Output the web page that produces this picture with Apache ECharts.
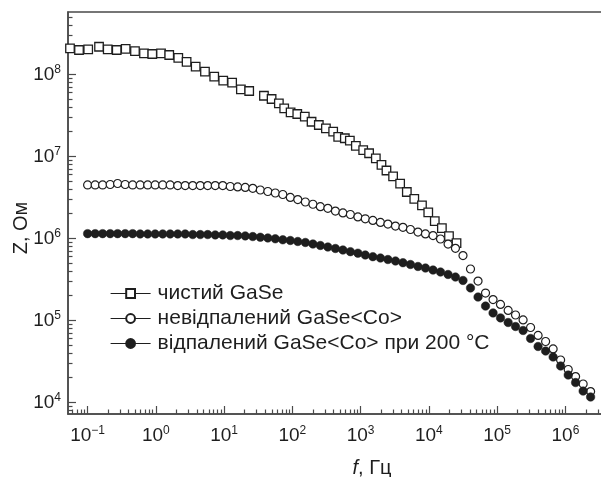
<!DOCTYPE html>
<html>
<head>
<meta charset="utf-8">
<script src="https://cdn.jsdelivr.net/npm/echarts@6/dist/echarts.min.js"></script>
<style>
* { margin: 0; padding: 0; }
#chart-container { width: 601px; height: 477px; background: #fff; }
</style>
</head>
<body>
<div id="chart-container"></div>
<script>
// pure GaSe (squares)
const freqPure = [0.0552, 0.0748, 0.102, 0.147, 0.197, 0.267, 0.361, 0.494, 0.670, 0.886,
  1.19, 1.57, 2.13, 2.82, 3.83, 5.24, 7.16, 9.70, 13.1, 17.6, 23.3, 38.3, 49.6, 63.4, 75.9,
  94.2, 118, 152, 191, 244, 310, 396, 469, 587, 695, 851, 1090, 1330, 1670, 2020, 2390,
  2990, 3790, 4750, 6110, 7920, 9790, 12200, 15500, 19700, 25400]
const zPure = [2.07e8, 1.98e8, 2.02e8, 2.17e8, 2.02e8, 1.98e8, 2.04e8, 1.92e8, 1.80e8, 1.77e8,
  1.80e8, 1.72e8, 1.59e8, 1.42e8, 1.24e8, 1.08e8, 9.35e7, 8.36e7, 7.90e7, 6.56e7, 6.26e7, 5.48e7, 5.00e7, 4.43e7, 3.85e7,
  3.44e7, 3.28e7, 3.04e7, 2.64e7, 2.41e7, 2.19e7, 2.00e7, 1.73e7, 1.66e7, 1.55e7, 1.34e7, 1.19e7, 1.09e7, 9.46e6, 7.84e6, 6.71e6,
  5.70e6, 4.63e6, 3.67e6, 3.02e6, 2.52e6, 2.07e6, 1.62e6, 1.33e6, 1.06e6, 8.71e5]

// GaSe<Co> (open circles = not annealed, filled = annealed at 200 C)
const freqCo = [0.1, 0.129, 0.166, 0.214, 0.275, 0.355, 0.457, 0.589, 0.759, 0.977,
  1.26, 1.62, 2.09, 2.69, 3.47, 4.47, 5.75, 7.41, 9.55, 12.3,
  15.8, 20.4, 26.3, 33.9, 43.7, 56.2, 72.4, 93.3, 120, 155,
  200, 257, 331, 427, 550, 708, 912, 1170, 1510, 1950,
  2510, 3240, 4170, 5370, 6920, 8910, 11500, 14800, 19100, 24500,
  31600, 40700, 52500, 67600, 87100, 112000, 145000, 186000, 240000, 309000,
  398000, 513000, 661000, 851000, 1100000, 1410000, 1820000, 2340000]
const zUnannealed = [4.47e6, 4.47e6, 4.47e6, 4.53e6, 4.66e6, 4.53e6, 4.47e6, 4.47e6, 4.47e6, 4.47e6,
  4.47e6, 4.47e6, 4.40e6, 4.40e6, 4.40e6, 4.40e6, 4.40e6, 4.40e6, 4.40e6, 4.28e6,
  4.23e6, 4.17e6, 4.07e6, 3.88e6, 3.72e6, 3.57e6, 3.42e6, 3.15e6, 2.97e6, 2.77e6,
  2.60e6, 2.43e6, 2.32e6, 2.15e6, 2.04e6, 1.95e6, 1.82e6, 1.73e6, 1.65e6, 1.56e6,
  1.49e6, 1.41e6, 1.36e6, 1.28e6, 1.19e6, 1.13e6, 1.08e6, 9.80e5, 8.51e5, 7.55e5,
  6.16e5, 4.22e5, 3.01e5, 2.15e5, 1.79e5, 1.56e5, 1.32e5, 1.16e5, 1.01e5, 8.17e4,
  6.53e4, 5.51e4, 4.47e4, 3.28e4, 2.51e4, 2.06e4, 1.67e4, 1.35e4]
const zAnnealed = [1.14e6, 1.14e6, 1.14e6, 1.14e6, 1.14e6, 1.14e6, 1.14e6, 1.13e6, 1.13e6, 1.13e6,
  1.13e6, 1.13e6, 1.13e6, 1.13e6, 1.11e6, 1.11e6, 1.11e6, 1.10e6, 1.10e6, 1.08e6,
  1.08e6, 1.07e6, 1.05e6, 1.03e6, 1.01e6, 9.86e5, 9.59e5, 9.40e5, 9.14e5, 8.89e5,
  8.52e5, 8.17e5, 7.83e5, 7.51e5, 7.20e5, 6.87e5, 6.58e5, 6.26e5, 5.97e5, 5.75e5,
  5.51e5, 5.29e5, 5.04e5, 4.79e5, 4.53e5, 4.34e5, 4.10e5, 3.88e5, 3.62e5, 3.37e5,
  3.06e5, 2.48e5, 1.92e5, 1.49e5, 1.23e5, 1.07e5, 9.40e4, 8.40e4, 7.51e4, 6.00e4,
  4.79e4, 4.22e4, 3.57e4, 2.77e4, 2.15e4, 1.74e4, 1.37e4, 1.16e4]

const seriesNames = ['чистий GaSe', 'невідпалений GaSe<Co>', 'відпалений GaSe<Co> при 200 °C']

// tick labels: decade exponents
const xDecades = [-1, 0, 1, 2, 3, 4, 5, 6]
const yDecades = [4, 5, 6, 7, 8]
const minorSteps = [2, 3, 4, 5, 6, 7, 8, 9]

const xRange = [Math.log10(0.0516), 6.8]
const yRange = [3.857, 8.76]

const minorTicks = (from, to) => {
  const out = []
  for (let d = from; d <= to; d++) {
    minorSteps.forEach(m => out.push(d + Math.log10(m)))
  }
  return out
}

const toLog = (fs, zs) => fs.map((f, i) => [Math.log10(f), Math.log10(zs[i])])

const FONT = '"Liberation Sans", Arial, sans-serif'
const AXIS_COLOR = '#4a4a4a'
const INK = '#1e1e1e'

const powLabel = (v) => {
  const e = Math.round(v)
  return '{b|10}{s|' + (e < 0 ? '\u2212' + (-e) : e) + '}'
}
const powRich = {
  b: { fontSize: 19, fontFamily: FONT, color: INK, lineHeight: 22 },
  s: { fontSize: 12, fontFamily: FONT, color: INK, verticalAlign: 'top', lineHeight: 22 }
}

const chart = echarts.init(document.getElementById('chart-container'))

const option = {
  animation: false,
  backgroundColor: '#fff',
  grid: {
    left: 68,
    top: 12,
    width: 552,
    height: 402,
    outerBoundsMode: 'none',
    containLabel: false,
    show: true,
    borderColor: AXIS_COLOR,
    borderWidth: 1.5
  },
  legend: {
    orient: 'vertical',
    left: 110,
    top: 283,
    padding: 0,
    itemWidth: 40,
    itemHeight: 11,
    itemGap: 4,
    data: seriesNames,
    lineStyle: { color: INK, width: 1.2, opacity: 1 },
    textStyle: { fontSize: 21, fontFamily: FONT, color: INK, padding: [0, 0, 0, 2] }
  },
  xAxis: [
    {
      type: 'value',
      min: xRange[0],
      max: xRange[1],
      name: '{i|f}, Гц',
      nameLocation: 'middle',
      nameGap: 44,
      nameMoveOverlap: false,
      nameTextStyle: {
        fontSize: 20,
        fontFamily: FONT,
        color: INK,
        padding: [0, 0, 0, 56],
        rich: { i: { fontStyle: 'italic', fontSize: 20, fontFamily: FONT, color: INK } }
      },
      axisLine: { onZero: false, lineStyle: { color: AXIS_COLOR, width: 1.5 } },
      axisTick: { inside: true, length: 8, customValues: xDecades, lineStyle: { color: AXIS_COLOR, width: 1.2 } },
      axisLabel: { customValues: xDecades, margin: 11, formatter: powLabel, rich: powRich },
      splitLine: { show: false }
    },
    {
      type: 'value',
      min: xRange[0],
      max: xRange[1],
      position: 'bottom',
      axisLine: { show: false, onZero: false },
      axisTick: { inside: true, length: 4.5, customValues: minorTicks(-2, 6), lineStyle: { color: AXIS_COLOR, width: 1.2 } },
      axisLabel: { show: false },
      splitLine: { show: false }
    }
  ],
  yAxis: [
    {
      type: 'value',
      min: yRange[0],
      max: yRange[1],
      name: 'Z, Ом',
      nameLocation: 'middle',
      nameGap: 37,
      nameRotate: 90,
      nameMoveOverlap: false,
      nameTextStyle: { fontSize: 20, fontFamily: FONT, color: INK, padding: [0, 30, 0, 0] },
      axisLine: { onZero: false, lineStyle: { color: AXIS_COLOR, width: 1.5 } },
      axisTick: { inside: true, length: 8, customValues: yDecades, lineStyle: { color: AXIS_COLOR, width: 1.2 } },
      axisLabel: { customValues: yDecades, margin: 7, formatter: powLabel, rich: powRich },
      splitLine: { show: false }
    },
    {
      type: 'value',
      min: yRange[0],
      max: yRange[1],
      position: 'left',
      axisLine: { show: false, onZero: false },
      axisTick: { inside: true, length: 4.5, customValues: minorTicks(3, 8), lineStyle: { color: AXIS_COLOR, width: 1.2 } },
      axisLabel: { show: false },
      splitLine: { show: false }
    }
  ],
  series: [
    {
      name: seriesNames[0],
      type: 'line',
      data: toLog(freqPure, zPure),
      symbol: 'rect',
      symbolSize: 8.5,
      lineStyle: { width: 0, opacity: 0 },
      itemStyle: { color: '#fff', borderColor: INK, borderWidth: 1.3 },
      emphasis: { disabled: true }
    },
    {
      name: seriesNames[1],
      type: 'line',
      data: toLog(freqCo, zUnannealed),
      symbol: 'circle',
      symbolSize: 8,
      lineStyle: { width: 0, opacity: 0 },
      itemStyle: { color: '#fff', borderColor: INK, borderWidth: 1.2 },
      emphasis: { disabled: true }
    },
    {
      name: seriesNames[2],
      type: 'line',
      data: toLog(freqCo, zAnnealed),
      symbol: 'circle',
      symbolSize: 8.5,
      lineStyle: { width: 0, opacity: 0 },
      itemStyle: { color: INK, borderColor: INK, borderWidth: 0.5 },
      emphasis: { disabled: true }
    }
  ]
}

chart.setOption(option)
</script>
</body>
</html>
